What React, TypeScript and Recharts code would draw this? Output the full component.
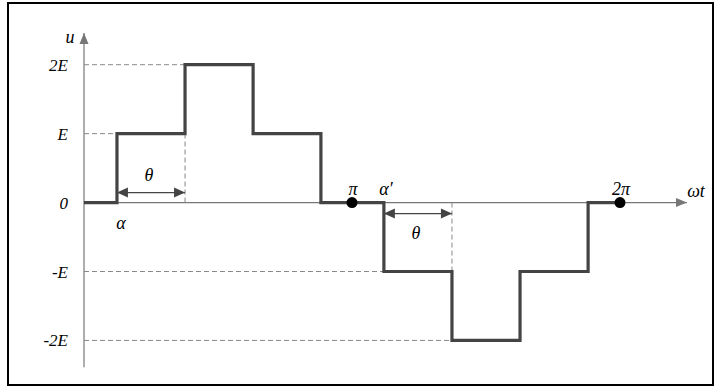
import React from 'react';
import { LineChart, Line, XAxis, YAxis, ReferenceLine, ReferenceDot } from 'recharts';

// angles are in units of pi, levels in units of E
const stepAngles = [0, 0.123, 0.377, 0.631, 0.884, 1.119, 1.373, 1.627, 1.881, 2.0];
const stepLevels = [0, 1, 2, 1, 0, -1, -2, -1, 0, 0];
const levelTicks = [-2, -1, 0, 1, 2];
const levelLabels = ['-2E', '-E', '0', 'E', '2E'];
const markAngles = [1, 2];
const markLabels = ['π', '2π'];
const alpha = 0.123;
const alphaPrime = 1.119;
const thetaWidth = 0.254;

const data = stepAngles.map((x, i) => ({ x, u: stepLevels[i] }));

const font = { fontFamily: '"Liberation Serif", serif', fontSize: 18, fontStyle: 'italic', fill: '#000' };
const axisColor = '#777';
const dashColor = '#888';

const head = (x: number, y: number, dx: number, dy: number, len: number, w: number, color: string) => {
  const d = Math.hypot(dx, dy) || 1;
  const ux = dx / d;
  const uy = dy / d;
  const bx = x - ux * len;
  const by = y - uy * len;
  const pts = `${x},${y} ${bx - uy * w},${by + ux * w} ${bx + uy * w},${by - ux * w}`;
  return <polygon points={pts} fill={color} />;
};

const arrowShape = (start: boolean, end: boolean, color: string, len = 10, w = 4.5) => (p: any) => {
  const { x1, y1, x2, y2 } = p;
  return (
    <g>
      <line x1={x1} y1={y1} x2={x2} y2={y2} stroke={color} strokeWidth={1.2} />
      {end && head(x2, y2, x2 - x1, y2 - y1, len, w, color)}
      {start && head(x1, y1, x1 - x2, y1 - y2, len, w, color)}
    </g>
  );
};

const textShape = (text: string, dx: number, dy: number, sub?: string) => (p: any) => (
  <text x={p.cx + dx} y={p.cy + dy} textAnchor="middle" style={font}>
    {text}
    {sub && (
      <tspan fontSize={12} dy={4}>
        {sub}
      </tspan>
    )}
  </text>
);

export default function App() {
  return (
    <div style={{ position: 'absolute', left: 0, top: 0, width: 718, height: 388, background: '#fff' }}>
      <div
        style={{
          position: 'absolute',
          left: 7,
          top: 2,
          width: 707,
          height: 384,
          border: '2px solid #000',
          boxSizing: 'border-box',
        }}
      />
      <div style={{ position: 'absolute', left: 0, top: 0 }}>
        <LineChart width={718} height={388} data={data} margin={{ top: 33, right: 31, bottom: 20, left: 24 }}>
          <XAxis hide type="number" dataKey="x" domain={[0, 2.25]} allowDataOverflow />
          <YAxis
            type="number"
            width={60}
            domain={[-2.4, 2.46]}
            ticks={levelTicks}
            interval={0}
            allowDataOverflow
            axisLine={false}
            tickLine={false}
            tickSize={0}
            tickMargin={16}
            tickFormatter={(v: number) => levelLabels[levelTicks.indexOf(v)]}
            tick={{ ...font, fontSize: 17 }}
          />
          {/* coordinate axes */}
          <ReferenceLine
            ifOverflow="visible"
            segment={[{ x: 0, y: 0 }, { x: 2.25, y: 0 }]}
            shape={arrowShape(false, true, axisColor, 11, 4.5)}
          />
          <ReferenceLine
            ifOverflow="visible"
            segment={[{ x: 0, y: -2.39 }, { x: 0, y: 2.46 }]}
            shape={arrowShape(false, true, axisColor, 11, 4.5)}
          />
          {/* dashed guides */}
          <ReferenceLine ifOverflow="visible" segment={[{ x: 0, y: 1 }, { x: stepAngles[1], y: 1 }]} stroke={dashColor} strokeDasharray="5 3" />
          <ReferenceLine ifOverflow="visible" segment={[{ x: 0, y: 2 }, { x: stepAngles[2], y: 2 }]} stroke={dashColor} strokeDasharray="5 3" />
          <ReferenceLine ifOverflow="visible" segment={[{ x: 0, y: -1 }, { x: stepAngles[5], y: -1 }]} stroke={dashColor} strokeDasharray="5 3" />
          <ReferenceLine ifOverflow="visible" segment={[{ x: 0, y: -2 }, { x: stepAngles[6], y: -2 }]} stroke={dashColor} strokeDasharray="5 3" />
          <ReferenceLine ifOverflow="visible" segment={[{ x: stepAngles[2], y: 0 }, { x: stepAngles[2], y: 1 }]} stroke={dashColor} strokeDasharray="5 3" />
          <ReferenceLine ifOverflow="visible" segment={[{ x: stepAngles[6], y: 0 }, { x: stepAngles[6], y: -1 }]} stroke={dashColor} strokeDasharray="5 3" />
          {/* width arrows */}
          <ReferenceLine
            ifOverflow="visible"
            segment={[{ x: alpha, y: 0.145 }, { x: alpha + thetaWidth, y: 0.145 }]}
            shape={arrowShape(true, true, '#444', 11, 5)}
          />
          <ReferenceLine
            ifOverflow="visible"
            segment={[{ x: alphaPrime, y: -0.16 }, { x: alphaPrime + thetaWidth, y: -0.16 }]}
            shape={arrowShape(true, true, '#444', 11, 5)}
          />
          <Line
            type="stepAfter"
            dataKey="u"
            stroke="#444"
            strokeWidth={3.2}
            dot={false}
            activeDot={false}
            isAnimationActive={false}
          />
          {markAngles.map((a, i) => (
            <ReferenceDot key={'d' + i} x={a} y={0} r={5.5} fill="#000" stroke="none" ifOverflow="visible" />
          ))}
          {markAngles.map((a, i) => (
            <ReferenceDot key={'t' + i} x={a} y={0} r={0} ifOverflow="visible" shape={textShape(markLabels[i], i ? 1 : 1, -8)} />
          ))}
          <ReferenceDot x={0} y={2.46} r={0} ifOverflow="visible" shape={textShape('u', -14, 10)} />
          <ReferenceDot x={2.25} y={0} r={0} ifOverflow="visible" shape={textShape('ωt', 9, -6)} />
          <ReferenceDot x={alpha} y={0} r={0} ifOverflow="visible" shape={textShape('α', 4, 26)} />
          <ReferenceDot x={alphaPrime} y={0} r={0} ifOverflow="visible" shape={textShape('α′', 2, -8)} />
          <ReferenceDot x={alpha + thetaWidth / 2} y={0.145} r={0} ifOverflow="visible" shape={textShape('θ', -2, -12)} />
          <ReferenceDot x={alphaPrime + thetaWidth / 2} y={-0.16} r={0} ifOverflow="visible" shape={textShape('θ', -2, 25)} />
        </LineChart>
      </div>
    </div>
  );
}
